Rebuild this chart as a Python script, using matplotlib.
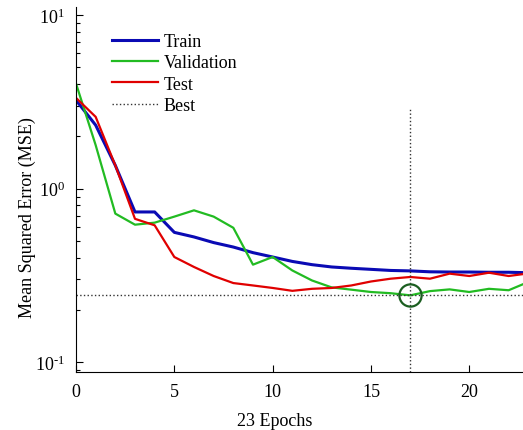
import matplotlib
matplotlib.use("Agg")
import matplotlib.pyplot as plt
import numpy as np

plt.rcParams['font.family'] = ['Liberation Serif', 'DejaVu Serif']
plt.rcParams['mathtext.fontset'] = 'custom'
plt.rcParams['mathtext.rm'] = 'Liberation Serif'
plt.rcParams['mathtext.it'] = 'Liberation Serif:italic'

epochs = list(range(24))
train = [3.23, 2.32, 1.36, 0.734, 0.734, 0.56, 0.527, 0.489, 0.461, 0.428, 0.404, 0.381,
         0.365, 0.354, 0.348, 0.343, 0.338, 0.336, 0.332, 0.331, 0.331, 0.330, 0.330, 0.328]
validation = [4.03, 1.78, 0.718, 0.62, 0.637, 0.69, 0.75, 0.69, 0.595, 0.365, 0.404, 0.338,
              0.296, 0.27, 0.262, 0.254, 0.25, 0.243, 0.257, 0.263, 0.254, 0.265, 0.26, 0.29]
test = [3.33, 2.59, 1.36, 0.67, 0.615, 0.404, 0.354, 0.314, 0.286, 0.277, 0.268, 0.258,
        0.265, 0.268, 0.277, 0.292, 0.303, 0.31, 0.303, 0.324, 0.314, 0.328, 0.314, 0.325]
best_epoch = 17
best_perf = 0.243
best_vline_top = 2.94
xticks = [0, 5, 10, 15, 20]
yticks = [0.1, 1, 10]
ytick_labels = [r'$\mathregular{10^{\text{-}1}}$', r'$\mathregular{10^{0}}$', r'$\mathregular{10^{1}}$']

fig = plt.figure(figsize=(5.23, 4.31), dpi=100)
ax = fig.add_axes([76/523, 1 - 372.7/431, 447/523, 364.4/431])

ax.plot(epochs, train, color='#0a0ab4', lw=2.2, label='Train')
ax.plot(epochs, validation, color='#22bb22', lw=1.6, label='Validation')
ax.plot(epochs, test, color='#e00000', lw=1.6, label='Test')

ylo = 10 ** -1.054
yhi = 10 ** 1.044
xhi = 447 / 19.665
ax.plot([best_epoch, best_epoch], [ylo, best_vline_top], ':', color='#333333', lw=1.0, label='Best')
ax.plot([0, xhi], [best_perf, best_perf], ':', color='#333333', lw=1.0)
ax.plot([best_epoch], [best_perf], 'o', mfc='none', mec='#1b5e20', mew=1.6, ms=16)

ax.set_yscale('log')
ax.set_xlim(0, xhi)
ax.set_ylim(ylo, yhi)
ax.set_xticks(xticks)
ax.set_xticklabels([str(t) for t in xticks], fontsize=13)
ax.set_yticks(yticks)
ax.set_yticklabels(ytick_labels, fontsize=13)
ax.yaxis.set_minor_locator(matplotlib.ticker.LogLocator(base=10, subs=np.arange(2, 10)))
ax.yaxis.set_minor_formatter(matplotlib.ticker.NullFormatter())
ax.tick_params(axis='both', which='major', direction='in', length=5, width=0.8, pad=8)
ax.tick_params(axis='both', which='minor', direction='in', length=3, width=0.8)
ax.tick_params(axis='x', which='minor', bottom=False)
ax.spines['top'].set_visible(False)
ax.spines['right'].set_visible(False)

fig.text(275/523, 1 - 421.7/431, '23 Epochs', ha='center', va='center', fontsize=13)
fig.text(27/523, 1 - 218/431, 'Mean Squared Error (MSE)', ha='center', va='center',
         rotation=90, fontsize=13)

ax.legend(loc='upper left', bbox_to_anchor=((112-76)/447, (372.7-34)/364.4),
          frameon=False, fontsize=13, handlelength=2.55, handletextpad=0.3,
          labelspacing=0.24, borderpad=0, borderaxespad=0)

fig.savefig('out.png', dpi=100)
